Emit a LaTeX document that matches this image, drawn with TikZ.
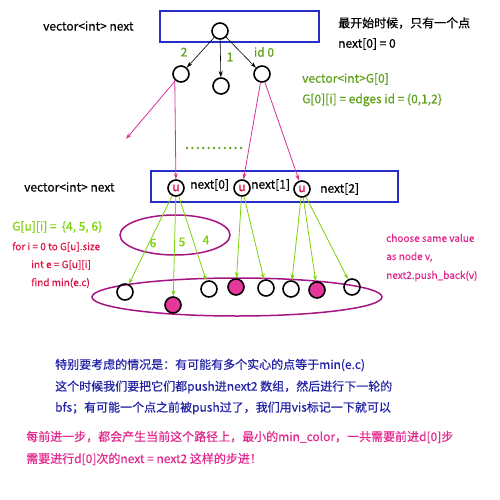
\documentclass[tikz,border=0pt]{standalone}
\usepackage{fontspec}
\setmainfont{Noto Sans CJK SC}[FakeBold=0.5]
\usepackage{tikz}
\usetikzlibrary{arrows.meta, positioning, calc}

\definecolor{boxblue}{RGB}{40,45,200}
\definecolor{lblgreen}{RGB}{95,160,25}
\definecolor{limegreen}{RGB}{125,210,10}
\definecolor{linkpink}{RGB}{215,50,150}
\definecolor{ringpurple}{RGB}{165,20,130}
\definecolor{dotpink}{RGB}{230,55,155}
\definecolor{codered}{RGB}{220,20,70}
\definecolor{notepink}{RGB}{225,40,140}
\definecolor{notenavy}{RGB}{35,35,165}

\begin{document}
\begin{tikzpicture}[x=1pt, y=-1pt,
  vertex/.style={circle, draw=black, line width=1.6pt, minimum size=16pt, inner sep=0pt},
  picked/.style={vertex, fill=dotpink},
  ucirc/.style={vertex, font=\fontsize{12}{12}\selectfont\color{codered}},
  frame/.style={draw=boxblue, line width=1.8pt},
  txt/.style={anchor=west, inner sep=0pt, font=\fontsize{12}{14}\selectfont},
  small/.style={anchor=west, inner sep=0pt, font=\fontsize{10}{12}\selectfont},
  blk/.style={-{Stealth[length=6pt, width=4pt]}, black, line width=0.6pt},
  pnk/.style={-{Stealth[length=6pt, width=4pt]}, linkpink, line width=0.8pt},
  grn/.style={-{Stealth[length=6pt, width=4pt]}, limegreen, line width=0.8pt}
]
\useasboundingbox (0,0) rectangle (500,500);

% first level
\draw[frame] (160,11) rectangle (319,42);
\node[txt] (lbl1) at (43,26) {vector<int> next};
\node[vertex] (root) at (220,31) {};
\node[vertex] (c2) at (181,74) {};
\node[vertex] (c1) at (221,86) {};
\node[vertex] (c0) at (262,74) {};
\draw[blk] (root) -- (c2);
\draw[blk] (root) -- (c1);
\draw[blk] (root) -- (c0);
\node[txt, anchor=center, text=lblgreen] (e2) at (184,52) {2};
\node[txt, anchor=center, text=lblgreen] (e1) at (230,57) {1};
\node[txt, anchor=center, text=lblgreen] (e0) at (264,52) {id 0};

\node[txt] (note1) at (338,23) {最开始时候，只有一个点};
\node[txt] (note2) at (338,44) {next[0] = 0};
\node[txt, text=lblgreen] (g0a) at (302,79) {vector<int>G[0]};
\node[txt, text=lblgreen] (g0b) at (302,100) {G[0][i] = edges id = \{0,1,2\}};

% second level
\draw[frame] (151,171) rectangle (398,202);
\node[txt] (lbl2) at (24,187) {vector<int> next};
\node[ucirc] (u0) at (176,188) {u};
\node[ucirc] (u1) at (242,188) {u};
\node[ucirc] (u2) at (302,189) {u};
\node[txt] (n0) at (190,185) {next[0]};
\node[txt] (n1) at (251,185) {next[1]};
\node[txt] (n2) at (320,189) {next[2]};

\coordinate (away) at (126,139);
\draw[pnk] (c2) -- (away);
\draw[pnk] (c2.south west) -- (u0);
\draw[pnk] (c0) -- (u1);
\draw[pnk] (c0) -- (u2);
\draw[lblgreen, line width=2.6pt, dash pattern=on 0pt off 5.4pt, line cap=round] (187,148) -- (246,148);

% third level
\draw[ringpurple, line width=1.5pt] (175,235) ellipse (55 and 20);
\draw[ringpurple, line width=1.5pt] (237,297) ellipse (145 and 19);
\node[vertex] (v1) at (125,292) {};
\node[picked] (v2) at (173,305) {};
\node[vertex] (v3) at (209,289) {};
\node[picked] (v4) at (236,287) {};
\node[vertex] (v5) at (266,288) {};
\node[vertex] (v6) at (291,289) {};
\node[picked] (v7) at (317,290) {};
\node[vertex] (v8) at (352,287) {};

\draw[grn] (u0) -- (v1);
\draw[grn] (u0) -- (v2);
\draw[grn] (u0) -- (v3);
\draw[grn] (u1) -- (v4);
\draw[grn] (u1) -- (v5);
\draw[grn] (u2) -- (v6);
\draw[grn] (u2) -- (v7);
\draw[grn] (u2) -- (v8);
\node[txt, anchor=center, text=limegreen] (w6) at (153,243) {6};
\node[txt, anchor=center, text=limegreen] (w5) at (182,242) {5};
\node[txt, anchor=center, text=limegreen] (w4) at (206,240) {4};

\node[txt, text=limegreen] (gu) at (12,227) {G[u][i] =~~\{4, 5, 6\}};
\node[small, text=codered] (loop1) at (12,247) {for i = 0 to G[u].size};
\node[small, text=codered] (loop2) at (31,265) {int e = G[u][i]};
\node[small, text=codered] (loop3) at (31,283) {find min(e.c)};

\node[small, text=notepink] (pick1) at (386,238) {choose same value};
\node[small, text=notepink] (pick2) at (386,257) {as node v,};
\node[small, text=notepink] (pick3) at (386,276) {next2.push\_back(v)};

% notes
\node[txt, text=notenavy] (case1) at (55,365) {特别要考虑的情况是：有可能有多个实心的点等于min(e.c)};
\node[txt, text=notenavy] (case2) at (55,387) {这个时候我们要把它们都push进next2 数组，然后进行下一轮的};
\node[txt, text=notenavy] (case3) at (55,408) {bfs；有可能一个点之前被push过了，我们用vis标记一下就可以};
\node[txt, text=notepink] (step1) at (26,437) {每前进一步，都会产生当前这个路径上，最小的min\_color，一共需要前进d[0]步};
\node[txt, text=notepink] (step2) at (26,459) {需要进行d[0]次的next = next2 这样的步进！};
\end{tikzpicture}
\end{document}
